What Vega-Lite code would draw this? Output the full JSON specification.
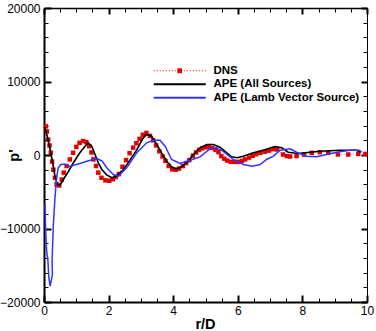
{
  "$schema": "https://vega.github.io/schema/vega-lite/v6.json",
  "width": 323,
  "height": 294,
  "autosize": {"type": "none"},
  "padding": {"left": 44, "top": 8, "right": 9, "bottom": 29},
  "background": "white",
  "config": {
    "view": {"stroke": null},
    "font": "Liberation Sans",
    "axis": {"grid": false, "labelFont": "Liberation Sans", "labelFontSize": 12, "labelColor": "#000", "tickColor": "#000", "domainColor": "#000", "titleColor": "#000", "labelFlush": false, "labelOverlap": false, "format": "d"},
    "legend": {"orient": "none", "legendX": 130, "legendY": 57, "padding": 0, "rowPadding": 0.5,
      "symbolType": "M-13,0H13", "symbolSize": 16, "labelOffset": 28, "labelFont": "Liberation Sans", "labelFontSize": 11.5, "labelFontWeight": "bold", "labelColor": "#000"}
  },
  "datasets": {
    "dns": [
      {"x": 0.06, "y": 3900}, {"x": 0.09, "y": 3200}, {"x": 0.13, "y": 2100}, {"x": 0.17, "y": 1300}, {"x": 0.21, "y": 300},
      {"x": 0.25, "y": -900}, {"x": 0.29, "y": -2000}, {"x": 0.34, "y": -3100}, {"x": 0.39, "y": -4000}, {"x": 0.47, "y": -4150},
      {"x": 0.55, "y": -3350}, {"x": 0.61, "y": -2400}, {"x": 0.70, "y": -1500}, {"x": 0.80, "y": -600}, {"x": 0.90, "y": 300},
      {"x": 1.00, "y": 1100}, {"x": 1.10, "y": 1650}, {"x": 1.21, "y": 1900}, {"x": 1.31, "y": 1750}, {"x": 1.40, "y": 1200},
      {"x": 1.47, "y": 350}, {"x": 1.53, "y": -600}, {"x": 1.61, "y": -1500}, {"x": 1.68, "y": -2400}, {"x": 1.78, "y": -3100},
      {"x": 1.90, "y": -3450}, {"x": 2.02, "y": -3500}, {"x": 2.13, "y": -3300}, {"x": 2.22, "y": -3000}, {"x": 2.32, "y": -2600},
      {"x": 2.43, "y": -1600}, {"x": 2.54, "y": -700}, {"x": 2.65, "y": 250}, {"x": 2.76, "y": 1000}, {"x": 2.86, "y": 1600},
      {"x": 2.96, "y": 2200}, {"x": 3.06, "y": 2750}, {"x": 3.17, "y": 3000}, {"x": 3.28, "y": 2600}, {"x": 3.38, "y": 2000},
      {"x": 3.47, "y": 1300}, {"x": 3.57, "y": 500}, {"x": 3.67, "y": -200}, {"x": 3.76, "y": -800}, {"x": 3.86, "y": -1500},
      {"x": 3.97, "y": -1950}, {"x": 4.08, "y": -2000}, {"x": 4.18, "y": -1850}, {"x": 4.30, "y": -1500}, {"x": 4.40, "y": -1100},
      {"x": 4.50, "y": -700}, {"x": 4.61, "y": -100}, {"x": 4.71, "y": 350}, {"x": 4.80, "y": 700}, {"x": 4.90, "y": 900},
      {"x": 5.00, "y": 1050}, {"x": 5.10, "y": 1100}, {"x": 5.21, "y": 950}, {"x": 5.31, "y": 700}, {"x": 5.40, "y": 400},
      {"x": 5.49, "y": -150}, {"x": 5.58, "y": -500}, {"x": 5.67, "y": -750}, {"x": 5.78, "y": -930}, {"x": 5.90, "y": -950},
      {"x": 6.02, "y": -930}, {"x": 6.13, "y": -800}, {"x": 6.23, "y": -600}, {"x": 6.35, "y": -350}, {"x": 6.46, "y": -100},
      {"x": 6.57, "y": 100}, {"x": 6.70, "y": 300}, {"x": 6.84, "y": 450}, {"x": 6.97, "y": 600}, {"x": 7.10, "y": 800},
      {"x": 7.22, "y": 750}, {"x": 7.40, "y": 70}, {"x": 7.52, "y": -150}, {"x": 7.62, "y": -200}, {"x": 7.82, "y": -150},
      {"x": 8.05, "y": 50}, {"x": 8.29, "y": 300}, {"x": 8.54, "y": 380}, {"x": 8.80, "y": 300}, {"x": 9.10, "y": 70},
      {"x": 9.42, "y": 70}, {"x": 9.73, "y": 150}, {"x": 9.95, "y": 150}
    ],
    "all": [
      {"x": 0.00, "y": 3800}, {"x": 0.03, "y": 3700}, {"x": 0.10, "y": 2560}, {"x": 0.19, "y": 750}, {"x": 0.27, "y": -1060},
      {"x": 0.34, "y": -2880}, {"x": 0.41, "y": -4000}, {"x": 0.50, "y": -4050}, {"x": 0.60, "y": -3330}, {"x": 0.76, "y": -2210},
      {"x": 0.91, "y": -1060}, {"x": 1.11, "y": 300}, {"x": 1.27, "y": 1200}, {"x": 1.37, "y": 1660}, {"x": 1.48, "y": 1200},
      {"x": 1.58, "y": 70}, {"x": 1.68, "y": -1060}, {"x": 1.79, "y": -1970}, {"x": 1.94, "y": -2700}, {"x": 2.10, "y": -3100},
      {"x": 2.25, "y": -2850}, {"x": 2.46, "y": -1970}, {"x": 2.66, "y": -700}, {"x": 2.87, "y": 700}, {"x": 3.07, "y": 2300},
      {"x": 3.18, "y": 2790}, {"x": 3.33, "y": 2560}, {"x": 3.49, "y": 1430}, {"x": 3.64, "y": 300}, {"x": 3.80, "y": -840},
      {"x": 3.95, "y": -1610}, {"x": 4.09, "y": -1900}, {"x": 4.26, "y": -1610}, {"x": 4.47, "y": -840}, {"x": 4.62, "y": 70},
      {"x": 4.83, "y": 980}, {"x": 5.04, "y": 1430}, {"x": 5.24, "y": 1430}, {"x": 5.45, "y": 1060}, {"x": 5.66, "y": 300},
      {"x": 5.81, "y": -240}, {"x": 5.97, "y": -380}, {"x": 6.17, "y": -160}, {"x": 6.48, "y": 300}, {"x": 6.79, "y": 650},
      {"x": 7.00, "y": 950}, {"x": 7.15, "y": 1150}, {"x": 7.36, "y": 980}, {"x": 7.56, "y": 380}, {"x": 7.87, "y": 200},
      {"x": 8.23, "y": 380}, {"x": 8.54, "y": 520}, {"x": 9.16, "y": 650}, {"x": 9.68, "y": 650}, {"x": 9.80, "y": 350}
    ],
    "lamb": [
      {"i": 1, "x": 0.03, "y": -6700}, {"i": 2, "x": 0.05, "y": -10000}, {"i": 3, "x": 0.08, "y": -13000}, {"i": 4, "x": 0.12, "y": -14300},
      {"i": 5, "x": 0.15, "y": -16700}, {"i": 6, "x": 0.19, "y": -17850}, {"i": 7, "x": 0.26, "y": -16300}, {"i": 8, "x": 0.25, "y": -14400},
      {"i": 9, "x": 0.29, "y": -9500}, {"i": 10, "x": 0.34, "y": -5800}, {"i": 11, "x": 0.39, "y": -3100}, {"i": 12, "x": 0.44, "y": -1750},
      {"i": 13, "x": 0.52, "y": -1300}, {"i": 14, "x": 0.65, "y": -1250}, {"i": 15, "x": 0.80, "y": -1550}, {"i": 16, "x": 1.11, "y": -1150},
      {"i": 17, "x": 1.40, "y": -750}, {"i": 18, "x": 1.66, "y": -520}, {"i": 19, "x": 1.80, "y": -840}, {"i": 20, "x": 1.94, "y": -1740},
      {"i": 21, "x": 2.15, "y": -2650}, {"i": 22, "x": 2.30, "y": -2880}, {"i": 23, "x": 2.56, "y": -1740}, {"i": 24, "x": 2.87, "y": 300},
      {"i": 25, "x": 3.18, "y": 1660}, {"i": 26, "x": 3.38, "y": 2010}, {"i": 27, "x": 3.59, "y": 2010}, {"i": 28, "x": 3.75, "y": 1200},
      {"i": 29, "x": 3.95, "y": -610}, {"i": 30, "x": 4.21, "y": -1150}, {"i": 31, "x": 4.50, "y": -750}, {"i": 32, "x": 4.83, "y": -250},
      {"i": 33, "x": 5.14, "y": 860}, {"i": 34, "x": 5.35, "y": 980}, {"i": 35, "x": 5.55, "y": 500}, {"i": 36, "x": 5.86, "y": -610},
      {"i": 37, "x": 6.17, "y": -1290}, {"i": 38, "x": 6.45, "y": -1520}, {"i": 39, "x": 6.69, "y": -1300}, {"i": 40, "x": 6.89, "y": -610},
      {"i": 41, "x": 7.10, "y": -160}, {"i": 42, "x": 7.31, "y": 650}, {"i": 43, "x": 7.62, "y": 840}, {"i": 44, "x": 7.82, "y": 380},
      {"i": 45, "x": 8.13, "y": -160}, {"i": 46, "x": 8.44, "y": -240}, {"i": 47, "x": 8.75, "y": 70}, {"i": 48, "x": 9.06, "y": 380},
      {"i": 49, "x": 9.47, "y": 650}, {"i": 50, "x": 9.76, "y": 650}, {"i": 51, "x": 9.84, "y": 380}
    ]
  },
  "resolve": {"scale": {"x": "shared", "y": "shared", "color": "shared"}, "axis": {"x": "independent", "y": "independent"}},
  "layer": [
    {
      "data": {"name": "dns"},
      "mark": {"type": "line", "stroke": "#f08080", "strokeWidth": 1, "strokeDash": [1, 2]},
      "encoding": {
        "x": {"field": "x", "type": "quantitative", "scale": {"domain": [0, 10], "nice": false, "zero": false},
          "axis": {"orient": "bottom", "values": [0, 2, 4, 6, 8, 10], "tickSize": -7, "tickWidth": 2, "domainWidth": 2, "labelPadding": 10,
            "title": "r/D", "titleFont": "Liberation Sans", "titleFontSize": 14.5, "titleFontWeight": "bold", "titleBaseline": "alphabetic", "titleX": 161, "titleY": 26, "titleAnchor": "middle"}},
        "y": {"field": "y", "type": "quantitative", "scale": {"domain": [-20000, 20000], "nice": false, "zero": false},
          "axis": {"orient": "left", "values": [-20000, -10000, 0, 10000, 20000], "tickSize": -7, "tickWidth": 2, "domainWidth": 2, "labelPadding": 11,
            "title": "p'", "titleFont": "Liberation Sans", "titleFontSize": 14.5, "titleFontWeight": "bold", "titleBaseline": "alphabetic", "titleAngle": 270, "titleX": -26, "titleY": 147, "titleAnchor": "middle"}}
      }
    },
    {
      "data": {"name": "dns"},
      "mark": {"type": "square", "filled": true, "size": 20, "opacity": 1},
      "encoding": {
        "x": {"field": "x", "type": "quantitative", "axis": {"orient": "bottom", "values": [0.5, 1, 1.5, 2.5, 3, 3.5, 4.5, 5, 5.5, 6.5, 7, 7.5, 8.5, 9, 9.5], "tickSize": -4, "tickWidth": 1, "domain": false, "labels": false, "title": null}},
        "y": {"field": "y", "type": "quantitative", "axis": {"orient": "left", "values": [-18000, -16000, -14000, -12000, -8000, -6000, -4000, -2000, 2000, 4000, 6000, 8000, 12000, 14000, 16000, 18000], "tickSize": -4, "tickWidth": 1, "domain": false, "labels": false, "title": null}},
        "color": {"datum": "DNS", "type": "nominal",
          "scale": {"domain": ["DNS", "APE (All Sources)", "APE (Lamb Vector Source)"], "range": ["#e00000", "#000000", "#3333ff"]},
          "legend": {"title": null,
            "encode": {"symbols": {"update": {
              "shape": {"signal": "datum.value === 'DNS' ? 'M-13,0H13M-1.1,-1.1H1.1V1.1H-1.1Z' : 'M-13,0H13'"},
              "stroke": {"signal": "datum.value === 'DNS' ? '#f08080' : scale('color', datum.value)"},
              "fill": {"signal": "datum.value === 'DNS' ? '#e00000' : 'transparent'"},
              "strokeDash": {"signal": "datum.value === 'DNS' ? [1, 2] : [1, 0]"},
              "strokeWidth": {"signal": "datum.value === 'DNS' ? 1 : 2"},
              "opacity": {"value": 1}
            }}}}}
      }
    },
    {
      "data": {"name": "all"},
      "mark": {"type": "line", "strokeWidth": 1.6},
      "encoding": {
        "x": {"field": "x", "type": "quantitative", "axis": {"orient": "top", "values": [0, 2, 4, 6, 8, 10], "tickSize": -6, "tickWidth": 2, "domainWidth": 1.5, "labels": false, "title": null}},
        "y": {"field": "y", "type": "quantitative", "axis": {"orient": "right", "values": [-20000, -10000, 0, 10000, 20000], "tickSize": -6, "tickWidth": 2, "domainWidth": 1, "labels": false, "title": null}},
        "color": {"datum": "APE (All Sources)", "type": "nominal",
          "legend": {"title": null,
            "encode": {"symbols": {"update": {
              "shape": {"signal": "datum.value === 'DNS' ? 'M-13,0H13M-1.1,-1.1H1.1V1.1H-1.1Z' : 'M-13,0H13'"},
              "stroke": {"signal": "datum.value === 'DNS' ? '#f08080' : scale('color', datum.value)"},
              "fill": {"signal": "datum.value === 'DNS' ? '#e00000' : 'transparent'"},
              "strokeDash": {"signal": "datum.value === 'DNS' ? [1, 2] : [1, 0]"},
              "strokeWidth": {"signal": "datum.value === 'DNS' ? 1 : 2"},
              "opacity": {"value": 1}
            }}}}}
      }
    },
    {
      "data": {"name": "lamb"},
      "mark": {"type": "line", "strokeWidth": 1.5},
      "encoding": {
        "x": {"field": "x", "type": "quantitative", "axis": {"orient": "top", "values": [0.5, 1, 1.5, 2.5, 3, 3.5, 4.5, 5, 5.5, 6.5, 7, 7.5, 8.5, 9, 9.5], "tickSize": -4, "tickWidth": 1, "domain": false, "labels": false, "title": null}},
        "y": {"field": "y", "type": "quantitative", "axis": {"orient": "right", "values": [-18000, -16000, -14000, -12000, -8000, -6000, -4000, -2000, 2000, 4000, 6000, 8000, 12000, 14000, 16000, 18000], "tickSize": -4, "tickWidth": 1, "domain": false, "labels": false, "title": null}},
        "color": {"datum": "APE (Lamb Vector Source)", "type": "nominal",
          "legend": {"title": null,
            "encode": {"symbols": {"update": {
              "shape": {"signal": "datum.value === 'DNS' ? 'M-13,0H13M-1.1,-1.1H1.1V1.1H-1.1Z' : 'M-13,0H13'"},
              "stroke": {"signal": "datum.value === 'DNS' ? '#f08080' : scale('color', datum.value)"},
              "fill": {"signal": "datum.value === 'DNS' ? '#e00000' : 'transparent'"},
              "strokeDash": {"signal": "datum.value === 'DNS' ? [1, 2] : [1, 0]"},
              "strokeWidth": {"signal": "datum.value === 'DNS' ? 1 : 2"},
              "opacity": {"value": 1}
            }}}}},
        "order": {"field": "i", "type": "quantitative"}
      }
    }
  ]
}
